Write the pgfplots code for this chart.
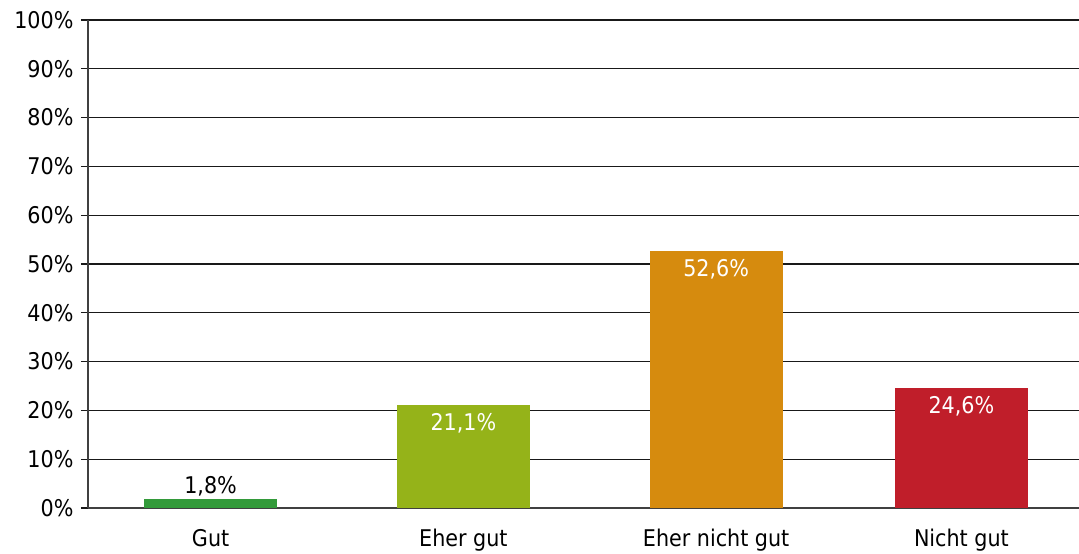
\documentclass[border=0pt]{standalone}
\usepackage{pgfplots}
\pgfplotsset{compat=1.18}
\usepackage{fontspec}
\setmainfont{DejaVu Sans Condensed}
\definecolor{cgut}{HTML}{339A3A}
\definecolor{cehergut}{HTML}{95B319}
\definecolor{cnichtgut}{HTML}{D68B0E}
\definecolor{cnicht}{HTML}{C01E2A}
\begin{document}
\begin{tikzpicture}
\begin{axis}[
  scale only axis, width=991pt, height=488pt,
  xmin=-0.49, xmax=3.47, ymin=0, ymax=100,
  axis lines*=left,
  axis line style={black!75, line width=1.2pt},
  ytick={0,10,...,100},
  yticklabel={\pgfmathprintnumber{\tick}\%},
  xtick={0,1.01,2.02,3},
  xticklabels={Gut,Eher gut,Eher nicht gut,Nicht gut},
  xtick style={draw=none},
  ytick style={black!90, line width=1.2pt},
  ymajorgrids,
  grid style={black!90, line width=1.2pt},
  major tick length=7pt, tick align=outside,
  tick label style={font=\fontsize{23}{27}\selectfont},
  yticklabel style={xshift=-4pt},
  xticklabel style={anchor=base, yshift=-31pt},
  /pgf/number format/assume math mode=true,
  ybar, bar width=133pt,
  clip=false,
]
\addplot[fill=cgut, draw=none, bar shift=0pt,
  nodes near coords={\pgfmathprintnumber[fixed,fixed zerofill,precision=1,use comma]{\pgfplotspointmeta}\%},
  every node near coord/.append style={anchor=center, yshift=13pt, black, font=\fontsize{23}{27}\selectfont, /pgf/number format/assume math mode=true}]
  coordinates {(0,1.8)};
\addplot[fill=cehergut, draw=none, bar shift=0pt,
  nodes near coords={\pgfmathprintnumber[fixed,fixed zerofill,precision=1,use comma]{\pgfplotspointmeta}\%},
  every node near coord/.append style={anchor=center, yshift=-18pt, white, font=\fontsize{23}{27}\selectfont, /pgf/number format/assume math mode=true}]
  coordinates {(1.01,21.1)};
\addplot[fill=cnichtgut, draw=none, bar shift=0pt,
  nodes near coords={\pgfmathprintnumber[fixed,fixed zerofill,precision=1,use comma]{\pgfplotspointmeta}\%},
  every node near coord/.append style={anchor=center, yshift=-18pt, white, font=\fontsize{23}{27}\selectfont, /pgf/number format/assume math mode=true}]
  coordinates {(2.02,52.6)};
\addplot[fill=cnicht, draw=none, bar shift=0pt,
  nodes near coords={\pgfmathprintnumber[fixed,fixed zerofill,precision=1,use comma]{\pgfplotspointmeta}\%},
  every node near coord/.append style={anchor=center, yshift=-18pt, white, font=\fontsize{23}{27}\selectfont, /pgf/number format/assume math mode=true}]
  coordinates {(3,24.6)};
\end{axis}
\pgfresetboundingbox
\useasboundingbox (current axis.south west) ++(-88pt,-46pt) rectangle ++(1079pt,554pt);
\end{tikzpicture}
\end{document}
